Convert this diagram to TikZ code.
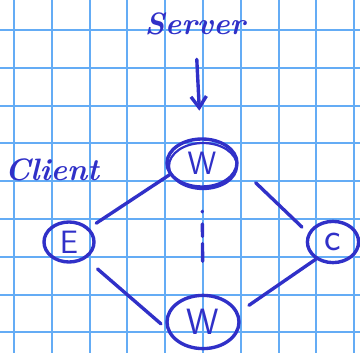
\documentclass[tikz,border=0pt]{standalone}
\usepackage{tikz}
\usetikzlibrary{shapes.geometric,arrows.meta,positioning}
\definecolor{gridblue}{RGB}{100,172,245}
\definecolor{ink}{RGB}{48,48,200}

\begin{document}
\begin{tikzpicture}[x=0.025cm,y=-0.025cm,
    gridline/.style={gridblue,line width=1.3pt},
    peer/.style={shape=ellipse,draw=ink,line width=2.4pt,text=ink,inner sep=0pt,
                 font=\sffamily\fontsize{23}{23}\selectfont},
    link/.style={ink,line width=2.4pt,line cap=round},
    hand/.style={text=ink,inner sep=0pt,font=\bfseries\itshape\fontsize{22}{22}\selectfont}]
  \useasboundingbox (0,0) rectangle (360,353);
  \fill[white] (0,0) rectangle (360,353);
  % squared paper
  \foreach \gx in {0,...,9}
    \draw[gridline] ({14+37.8*\gx},0) -- ({14+37.8*\gx},353);
  \foreach \gy in {0,...,8}
    \draw[gridline] (0,{30+37.8*\gy}) -- (360,{30+37.8*\gy});

  % labels
  \node[hand] (server) at (195,24) {Server};
  \node[hand] (client) at (52,170) {Client};

  % peers
  \node[peer,minimum width=1.75cm,minimum height=1.2cm] (wtop) at (202,163) {W};
  \draw[ink,line width=1.6pt] ([shift={(1,3)}]wtop.center) ellipse [x radius=34,y radius=23];
  \node[peer,minimum width=1.25cm,minimum height=1cm] (e) at (69,242) {E};
  \node[peer,minimum width=1.28cm,minimum height=1.03cm,font=\sffamily\fontsize{28}{28}\selectfont] (c) at (333,242) {c};
  \node[peer,minimum width=1.8cm,minimum height=1.33cm,font=\sffamily\fontsize{26}{26}\selectfont] (wbot) at (203,322) {W};

  % connections
  \draw[link,-{Straight Barb[length=8pt,width=11pt]},shorten <=17pt,shorten >=19pt] (server) -- (wtop);
  \draw[link,shorten >=6pt] (wtop.200) -- (e.35);
  \draw[link,shorten <=17pt,shorten >=6pt] (wtop.-5) -- (c.160);
  \draw[link,shorten <=11pt,shorten >=5pt] (e.-45) -- (wbot.190);
  \draw[link,shorten >=9pt] (c.-135) -- (wbot.15);
  \draw[link,dash pattern=on 0.5pt off 8.5pt on 9pt off 5pt on 12.7pt off 20pt,shorten <=16pt,shorten >=20pt] (wtop) -- (wbot);
\end{tikzpicture}
\end{document}
